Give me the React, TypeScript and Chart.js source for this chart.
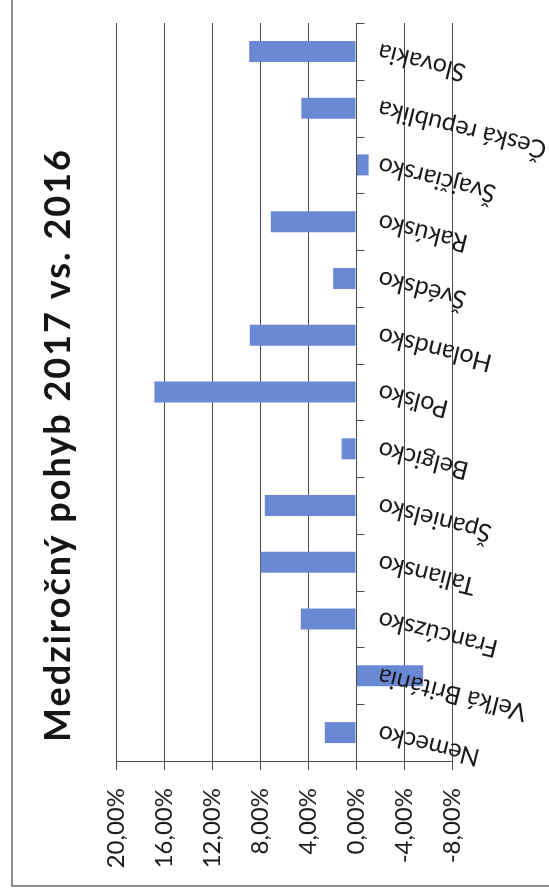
import { useEffect, useRef } from 'react';
import { Chart, registerables } from 'chart.js';

Chart.register(...registerables);

const chartTitle = 'Medziročný pohyb 2017 vs. 2016';
const categories = [
  'Nemecko',
  'Veľká Británia',
  'Francúzsko',
  'Taliansko',
  'Španielsko',
  'Belgicko',
  'Poľsko',
  'Holandsko',
  'Švédsko',
  'Rakúsko',
  'Švajčiarsko',
  'Česká republika',
  'Slovakia',
];
const changePct = [2.6, -5.6, 4.6, 7.95, 7.6, 1.2, 16.8, 8.85, 1.9, 7.1, -1.05, 4.55, 8.9];
const valueTicks = [-8, -4, 0, 4, 8, 12, 16, 20];
const tickLabels = ['-8,00%', '-4,00%', '0,00%', '4,00%', '8,00%', '12,00%', '16,00%', '20,00%'];

const decorPlugin = {
  id: 'decor',
  beforeDraw(chart: any) {
    const ctx = chart.ctx;
    ctx.save();
    ctx.strokeStyle = '#6a6a6a';
    ctx.lineWidth = 1.5;
    ctx.beginPath();
    ctx.moveTo(12, 0);
    ctx.lineTo(12, 886);
    ctx.lineTo(549, 886);
    ctx.stroke();
    ctx.restore();
  },
  afterDraw(chart: any) {
    const ctx = chart.ctx;
    const xs = chart.scales.x;
    const ys = chart.scales.y;
    const area = chart.chartArea;
    const zeroX = Math.round(xs.getPixelForValue(0)) + 0.5;
    const half = Math.abs(ys.getPixelForValue(1) - ys.getPixelForValue(0)) / 2;

    ctx.save();
    ctx.strokeStyle = '#4a4a4a';
    ctx.lineWidth = 1;
    ctx.beginPath();
    ctx.moveTo(zeroX, area.top);
    ctx.lineTo(zeroX, area.bottom);
    for (let i = 0; i < categories.length; i++) {
      const yb = Math.round(ys.getPixelForValue(i) - half) + 0.5;
      ctx.moveTo(zeroX, yb);
      ctx.lineTo(zeroX + 8, yb);
    }
    ctx.stroke();

    ctx.fillStyle = '#1a1a1a';
    ctx.font = '25px Lato';
    ctx.textAlign = 'right';
    ctx.textBaseline = 'middle';
    categories.forEach((label, i) => {
      const yc = ys.getPixelForValue(i);
      ctx.save();
      ctx.translate(zeroX + 22, yc);
      ctx.rotate(Math.PI + 0.245);
      ctx.fillText(label, 0, 0);
      ctx.restore();
    });

    ctx.save();
    ctx.translate(70, 445);
    ctx.rotate(-Math.PI / 2);
    ctx.font = 'bold 36px Lato';
    (ctx as any).letterSpacing = '2px';
    ctx.textAlign = 'center';
    ctx.textBaseline = 'alphabetic';
    ctx.fillStyle = '#151515';
    ctx.fillText(chartTitle, 0, 0);
    ctx.restore();

    ctx.restore();
  },
};

export default function App() {
  const canvasRef = useRef<HTMLCanvasElement | null>(null);

  useEffect(() => {
    if (!canvasRef.current) return;
    const chart = new Chart(canvasRef.current, {
      type: 'bar',
      data: {
        labels: categories,
        datasets: [
          {
            label: chartTitle,
            data: changePct,
            backgroundColor: '#6a89d5',
            borderWidth: 0,
            categoryPercentage: 1,
            barPercentage: 0.37,
          },
        ],
      },
      options: {
        indexAxis: 'y',
        animation: false,
        responsive: true,
        maintainAspectRatio: false,
        layout: { padding: { left: 116, right: 97, top: 23, bottom: 0 } },
        plugins: {
          legend: { display: false },
          title: { display: false },
          tooltip: { enabled: false },
        },
        scales: {
          x: {
            type: 'linear',
            min: -8,
            max: 20,
            reverse: true,
            afterBuildTicks: (scale: any) => {
              scale.ticks = valueTicks.map((v) => ({ value: v }));
            },
            afterFit: (scale: any) => {
              scale.height = 131;
            },
            ticks: {
              autoSkip: false,
              minRotation: 90,
              maxRotation: 90,
              padding: 18,
              color: '#1a1a1a',
              font: { family: 'Lato', size: 24 },
              callback: (v: any) => {
                const idx = valueTicks.indexOf(Number(v));
                return idx >= 0 ? tickLabels[idx] : '';
              },
            },
            grid: {
              color: '#4a4a4a',
              lineWidth: 1,
              tickLength: 9,
              drawTicks: true,
            },
            border: { display: true, color: '#4a4a4a', width: 1 },
          },
          y: {
            type: 'category',
            reverse: true,
            display: false,
            offset: true,
          },
        },
      },
      plugins: [decorPlugin],
    });
    return () => chart.destroy();
  }, []);

  return (
    <div style={{ position: 'fixed', left: 0, top: 0, width: 549, height: 892, background: '#fff' }}>
      <canvas ref={canvasRef} />
    </div>
  );
}
